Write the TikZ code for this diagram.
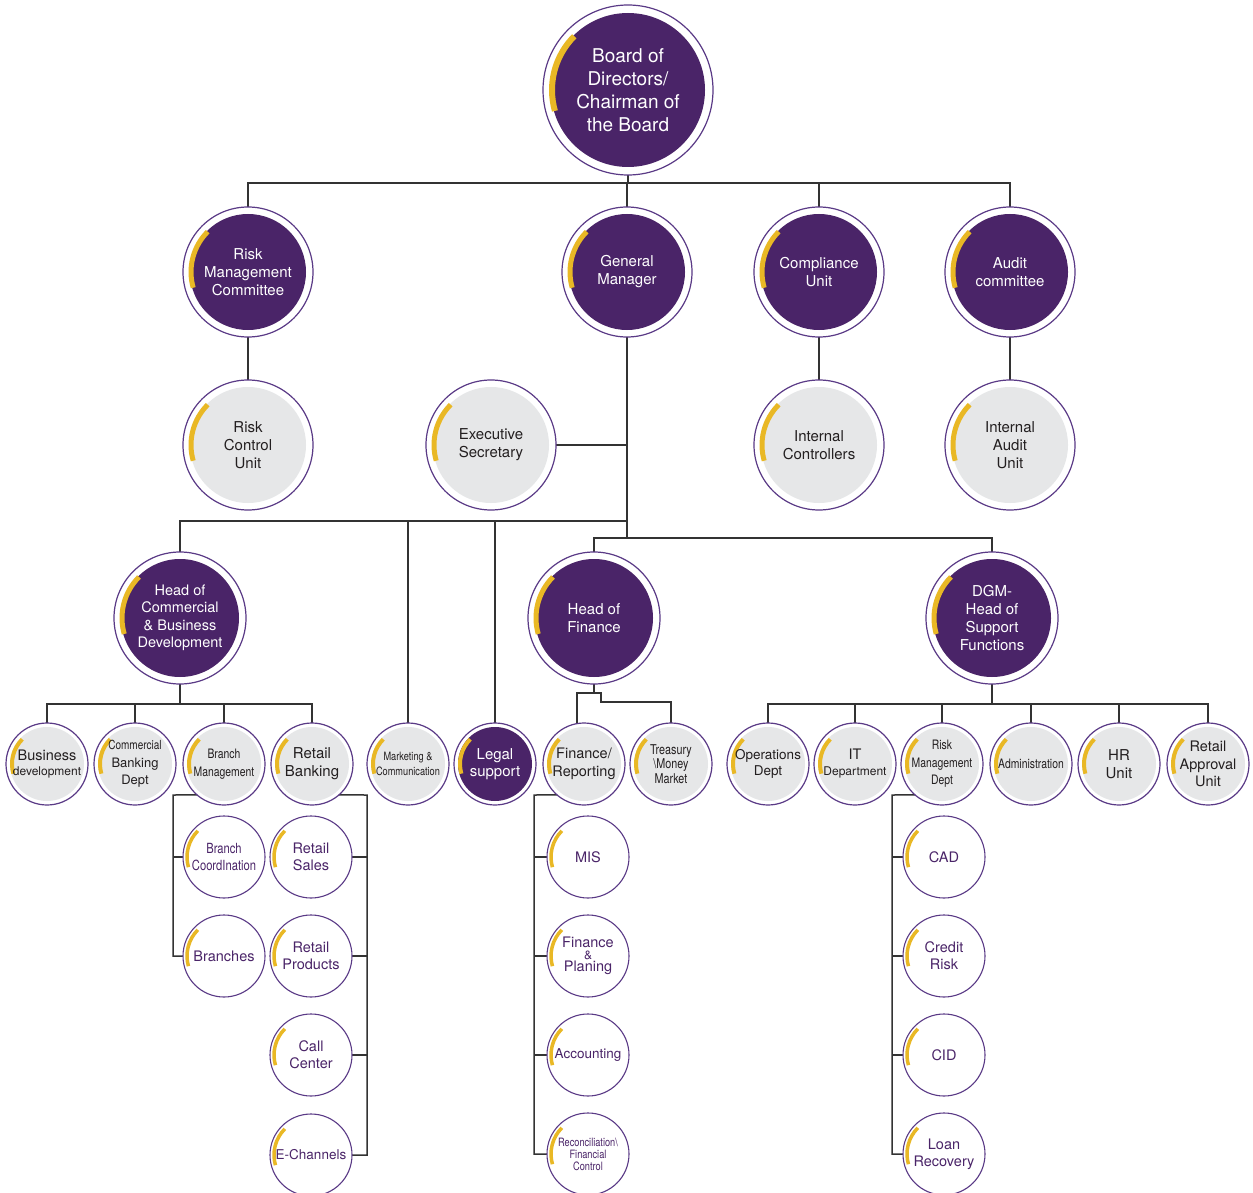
\documentclass[tikz,border=0pt]{standalone}
\usepackage{fontspec}
\setmainfont{TeX Gyre Heros}
\newfontfamily\condf[FakeStretch=0.8]{TeX Gyre Heros}
\usetikzlibrary{backgrounds,calc}
\newcommand{\setfs}[2]{\fontsize{#1}{#2}\selectfont}
\definecolor{purp}{HTML}{4A2468}
\definecolor{ringc}{HTML}{5A3A86}
\definecolor{greyf}{HTML}{E6E7E8}
\definecolor{gold}{HTML}{E9B825}
\definecolor{linec}{HTML}{333333}
\definecolor{txt}{HTML}{231F20}
\tikzset{
 unit/.style n args={5}{circle, inner sep=0pt, outer sep=0pt, minimum size=2*#1, draw=ringc, line width=1.2pt, fill=white, align=center,
   path picture={\fill[#3] (path picture bounding box.center) circle[radius=#2];
     \draw[gold,line width=#5] ([shift={(135:#4)}]path picture bounding box.center) arc[start angle=135,end angle=196,radius=#4];}},
 topP/.style={unit={85pt}{77pt}{purp}{76pt}{6pt}, text=white, font=\setfs{19}{23}},
 midP/.style={unit={65pt}{58pt}{purp}{57pt}{5pt}, text=white, font=\setfs{15}{18}},
 midG/.style={unit={65pt}{58pt}{greyf}{57pt}{5pt}, text=txt, font=\setfs{15}{18}},
 headP/.style={unit={66pt}{59pt}{purp}{58pt}{5pt}, text=white, font=\setfs{14.5}{17.5}},
 smallG/.style={unit={41pt}{37pt}{greyf}{35pt}{4pt}, text=txt, font=\setfs{14.5}{17}},
 smallP/.style={unit={41pt}{37pt}{purp}{35pt}{4pt}, text=white, font=\setfs{15}{17}},
 leaf/.style={circle, inner sep=0pt, outer sep=0pt, minimum size=82pt, draw=ringc, line width=1.1pt, fill=white, align=center, text=purp, font=\setfs{14.5}{17},
   path picture={\draw[gold,line width=3.5pt] ([shift={(135:37pt)}]path picture bounding box.center) arc[start angle=135,end angle=196,radius=37pt];}},
 conn/.style={draw=linec, line width=1.5pt},
}
\begin{document}
\begin{tikzpicture}[x=1pt,y=1pt]
\useasboundingbox (0,0) rectangle (1253,-1193);
% level 1
\node[topP] (board) at (628,-90) {Board of\\Directors/\\Chairman of\\the Board};
% level 2
\node[midP] (rmc) at (248,-272) {Risk\\Management\\Committee};
\node[midP] (gm) at (627,-272) {General\\Manager};
\node[midP] (comp) at (819,-272) {Compliance\\Unit};
\node[midP] (audit) at (1010,-272) {Audit\\committee};
% level 3
\node[midG] (rcu) at (248,-445) {Risk\\Control\\Unit};
\node[midG] (exec) at (491,-445) {Executive\\Secretary};
\node[midG] (ic) at (819,-445) {Internal\\Controllers};
\node[midG] (iau) at (1010,-445) {Internal\\Audit\\Unit};
% level 4
\node[headP] (hoc) at (180,-618) {Head of\\Commercial\\\& Business\\Development};
\node[headP, font=\setfs{15}{18}] (hof) at (594,-618) {Head of\\Finance};
\node[headP, font=\setfs{15}{18}] (dgm) at (992,-618) {DGM-\\Head of\\Support\\Functions};
% level 5
\node[smallG] (bd) at (47,-764) {Business\\[-2pt]{\setfs{12}{14}development}};
\node[smallG, font=\setfs{13}{17.5}] (cbd) at (135,-764) {{\condf\setfs{12.5}{17.5}Commercial}\\Banking\\Dept};
\node[smallG, font=\condf\setfs{13}{18}] (bm) at (224,-764) {Branch\\Management};
\node[smallG, font=\setfs{15}{18}] (rb) at (312,-764) {Retail\\Banking};
\node[smallG, font=\condf\setfs{11.5}{15.5}] (mc) at (408,-764) {Marketing \&\\Communication};
\node[smallP] (ls) at (495,-764) {Legal\\support};
\node[smallG, font=\setfs{14.5}{18}] (fr) at (584,-764) {Finance/\\Reporting};
\node[smallG, font=\condf\setfs{13.5}{14.5}] (tm) at (671,-764) {Treasury\\\textbackslash Money\\Market};
\node[smallG, font=\setfs{13.5}{16.5}] (od) at (768,-764) {Operations\\Dept};
\node[smallG, font=\setfs{14.5}{16}] (it) at (855,-764) {IT\\{\setfs{12}{16}Department}};
\node[smallG, font=\condf\setfs{13}{17.5}] (rmd) at (942,-764) {Risk\\Management\\Dept};
\node[smallG, font=\condf\setfs{13}{17}] (adm) at (1031,-764) {Administration};
\node[smallG, font=\setfs{15}{17.5}] (hr) at (1119,-764) {HR\\Unit};
\node[smallG, font=\setfs{14.5}{17.5}] (rau) at (1208,-764) {Retail\\Approval\\Unit};
% level 6
\node[leaf, font=\condf\setfs{14}{17.5}] (bc) at (224,-857) {Branch\\CoordInation};
\node[leaf] (br) at (224,-956) {Branches};
\node[leaf] (rs) at (311,-857) {Retail\\Sales};
\node[leaf] (rp) at (311,-956) {Retail\\Products};
\node[leaf] (cc) at (311,-1055) {Call\\Center};
\node[leaf, font=\setfs{13.5}{17}] (ec) at (311,-1155) {E-Channels};
\node[leaf] (mis) at (588,-857) {MIS};
\node[leaf, font=\setfs{14.5}{12}] (fp) at (588,-956) {Finance\\{\setfs{12}{12}\&}\\Planing};
\node[leaf, font=\setfs{13.5}{17}] (acc) at (588,-1055) {Accounting};
\node[leaf, font=\condf\setfs{11.5}{12}] (rec) at (588,-1154) {Reconciliation\textbackslash\\Financial\\Control};
\node[leaf] (cad) at (944,-857) {CAD};
\node[leaf] (cr) at (944,-956) {Credit\\Risk};
\node[leaf] (cid) at (944,-1055) {CID};
\node[leaf] (lr) at (944,-1154) {Loan\\Recovery};
% connectors
\begin{scope}[on background layer]
\fill[white] (0,0) rectangle (1253,-1193);
\coordinate (t1) at (628,-183);
\draw[conn] (board.south) -- (t1);
\draw[conn] (rmc.north) |- (t1) -| (audit.north);
\draw[conn] (gm.north) -- (gm.north |- t1);
\draw[conn] (comp.north) -- (comp.north |- t1);
\draw[conn] (rmc.south) -- (rcu.north);
\draw[conn] (comp.south) -- (ic.north);
\draw[conn] (audit.south) -- (iau.north);
\coordinate (t2) at (627,-521);
\coordinate (t3) at (627,-538);
\draw[conn] (gm.south) -- (t3);
\draw[conn] (exec.east) -- (exec.east -| t3);
\draw[conn] (hoc.north) |- (t2);
\draw[conn] (mc.north) -- (mc.north |- t2);
\draw[conn] (ls.north) -- (ls.north |- t2);
\draw[conn] (hof.north) |- (t3) -| (dgm.north);
\coordinate (t4) at (180,-704);
\draw[conn] (hoc.south) -- (t4);
\draw[conn] (bd.north) |- (t4) -| (rb.north);
\draw[conn] (cbd.north) -- (cbd.north |- t4);
\draw[conn] (bm.north) -- (bm.north |- t4);
\coordinate (t5) at (594,-693);
\draw[conn] (hof.south) -- (t5);
\draw[conn] ([xshift=-7pt]fr.north) |- (t5) -- ++(7,0) -- ++(0,-9) -| (tm.north);
\coordinate (t6) at (992,-704);
\draw[conn] (dgm.south) -- (t6);
\draw[conn] (od.north) |- (t6) -| (rau.north);
\foreach \n in {it,rmd,adm,hr} \draw[conn] (\n.north) -- (\n.north |- t6);
\coordinate (v1) at (173,-795);
\draw[conn] (bm.229) -- (v1) |- (br.west);
\draw[conn] (bc.west) -- (bc.west -| v1);
\coordinate (v2) at (367,-795);
\draw[conn] (rb.311) -- (v2) |- (ec.east);
\foreach \n in {rs,rp,cc} \draw[conn] (\n.east) -- (\n.east -| v2);
\coordinate (v3) at (534,-795);
\draw[conn] (fr.229) -- (v3) |- (rec.west);
\foreach \n in {mis,fp,acc} \draw[conn] (\n.west) -- (\n.west -| v3);
\coordinate (v4) at (892,-795);
\draw[conn] (rmd.229) -- (v4) |- (lr.west);
\foreach \n in {cad,cr,cid} \draw[conn] (\n.west) -- (\n.west -| v4);
\end{scope}
\end{tikzpicture}
\end{document}
